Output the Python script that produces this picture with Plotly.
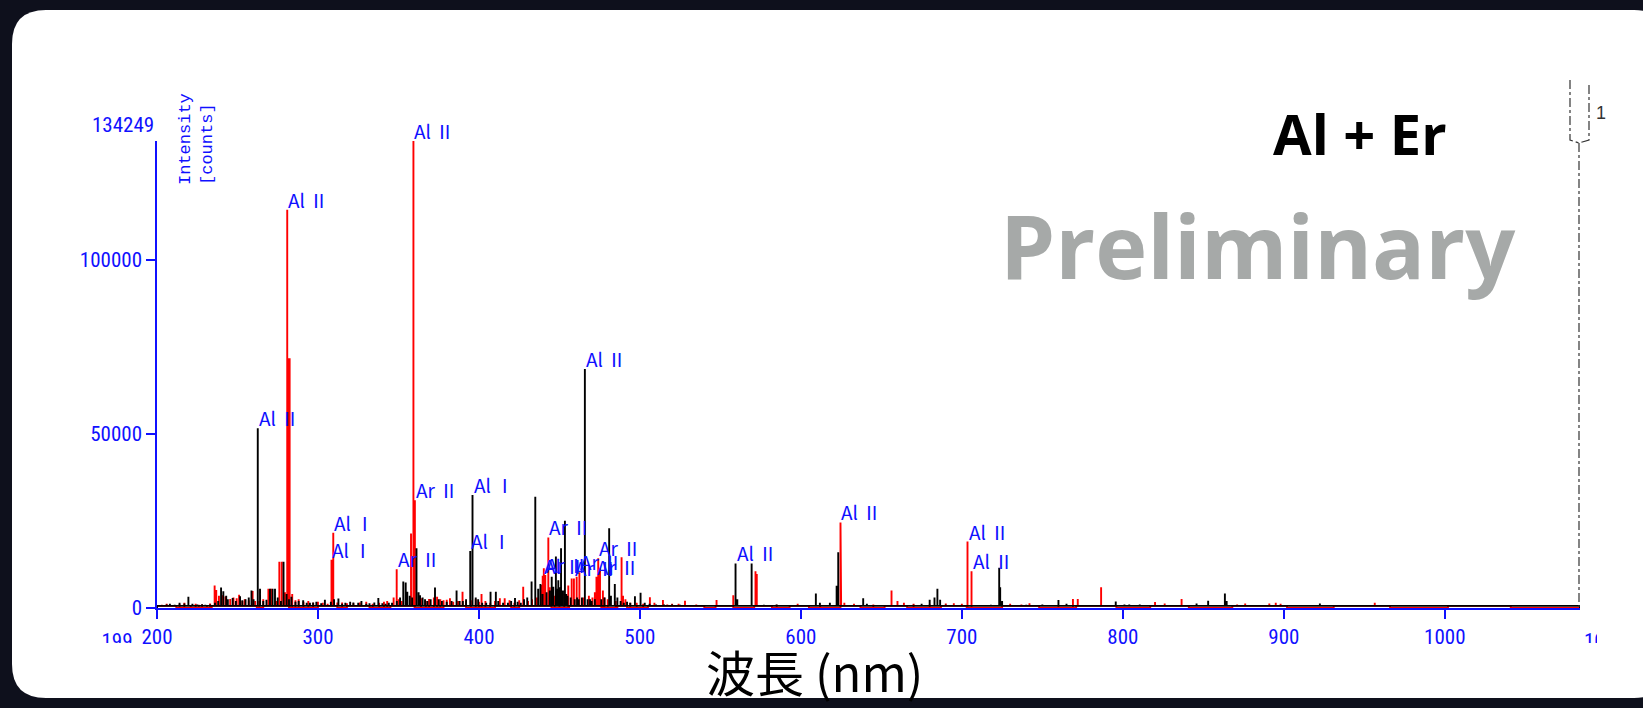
import plotly.graph_objects as go

W, H = 1643, 708
X_MIN, X_MAX = 200, 1084
Y_MAX = 134249

# ---- spectrum peaks (wavelength nm, intensity counts) ----
red_wl = [203, 206, 210, 214, 217, 221, 224, 226, 228, 231, 233,
          235.8, 236.8, 238.5, 240.5, 242.5, 245.5, 247.5, 249.5, 251.0, 253, 254.5, 257.0, 259.4, 261, 263.5,
          266, 269.2, 271.0, 274, 276.0, 277.5, 279.5, 280.9, 281.7, 282.4, 284, 286, 288, 291, 294, 297,
          300, 303, 306, 308.4, 308.8, 309.5, 312, 315, 318, 322, 326, 330, 334, 338, 341, 343, 347,
          348.9, 350.2, 352, 355, 357.8, 359.3, 360.2, 364, 367, 369, 372, 374, 376, 378, 380, 382, 384,
          387, 389.8, 392, 395, 398, 400, 401.6, 404, 407, 410, 413, 416, 419, 422, 425, 427.5, 430.5,
          433, 436, 438.9, 439.6, 440.3, 441.2, 443.1, 444, 447, 450, 453, 455.5, 457.6, 459, 460.7,
          462.4, 465, 468.3, 470.5, 472, 473.0, 474.1, 475.2, 477, 478, 480, 485, 488.6, 489.5, 491, 494,
          498, 502, 506.2, 509, 514.3, 517, 520, 524, 528, 535, 547.6, 558, 571.8, 572.6, 585,
          598, 612, 624.6, 627, 633, 645, 656.3, 660, 664, 670, 680, 690, 695, 700, 703.5, 706.0,
          730, 737, 742, 760, 769, 772, 786.5, 790, 820, 826, 836.5, 871, 876, 883, 891, 895, 898,
          939, 944, 956.5]
red_counts = [900, 1200, 800, 1100, 1500, 700, 1200, 900, 1000, 800, 1300,
              6500, 5200, 3500, 3700, 3300, 2600, 3000, 2800, 3800, 2000, 2500, 2200, 4900, 2000, 2000,
              2500, 5500, 5500, 2000, 13300, 13300, 4500, 114500, 71800, 71800, 4000, 2200, 2500, 1800, 2000, 1500,
              1800, 1500, 1200, 13900, 13900, 21650, 1600, 1600, 1400, 1400, 1600, 1800, 1200, 1500, 1800, 2000, 3000,
              11150, 2500, 2000, 2500, 21400, 134249, 31000, 2800, 2000, 2600, 3000, 3200, 2500, 2200, 2400, 2800, 1800,
              2000, 4700, 2000, 2200, 2500, 1800, 4000, 2000, 1500, 2000, 2800, 2800, 2200, 1500, 2200, 6100, 2000,
              2500, 3000, 6600, 9300, 11400, 9500, 20300, 6000, 3500, 3000, 4000, 6500, 8500, 8500, 9000,
              10300, 3000, 3500, 3000, 4500, 9000, 14300, 11600, 5000, 3000, 2500, 2000, 14600, 3500, 2500, 1500,
              1500, 1200, 3100, 1500, 2300, 1000, 1200, 1200, 2100, 1000, 2300, 3700, 10600, 9800, 900,
              1200, 900, 24600, 1500, 1200, 1000, 5000, 2000, 1500, 1200, 1000, 1300, 1400, 1200, 19100, 10600,
              1200, 1000, 1400, 800, 2600, 2600, 6000, 800, 1700, 1300, 2600, 1000, 1300, 800, 1300, 1500, 1200,
              600, 700, 1500]

black_wl = [203, 206, 208, 211, 214, 217, 219.5, 222, 225, 228, 230, 233, 236, 238, 239.8, 241.2, 243, 244,
            247, 249, 251.6, 253, 255, 257, 258.7, 260, 262.6, 264, 266, 268, 270.2, 271.8, 273.3, 275, 277,
            278.6, 280.5, 282, 283.5, 286, 288, 290.8, 293, 295, 297, 299, 302, 304.3, 308, 310, 312.7, 315,
            317, 320, 322, 325, 327, 330, 332, 335, 337.5, 340, 342, 344, 346, 349, 351, 353.0, 354.5,
            355.5, 357, 358.5, 361.2, 362.5, 363.4, 365, 366.5, 368, 370, 372.7, 375, 377, 380, 383, 386.1,
            388, 390, 392, 394.6, 396.0, 398, 399.5, 402, 404.5, 407.2, 410.5, 412, 415, 418, 420, 422.4,
            424, 426, 428, 430, 432.7, 435.0, 436.8, 438.2, 439.5, 442, 444, 445.2, 446.2, 447.8, 448.5,
            449.3, 450.2, 451.0, 452.2, 453.4, 454.2, 455, 457, 459.5, 461, 462, 464, 465.8, 467.5, 469,
            470, 472, 476, 478, 480.9, 482, 484.4, 486, 488, 490, 492, 494, 496.9, 500.4, 503, 506, 510,
            515, 520, 525, 530, 559.4, 560.5, 569.4, 577, 584.9, 590, 609.3,
            611.8, 618, 622.2, 623.2, 638.7, 641, 650, 670, 675, 680, 683, 684.8, 686.5, 690, 712, 718,
            723.2, 723.8, 725, 740, 750, 760, 765, 795.6, 801, 804, 810.5, 845.8, 853, 863.4, 864.5,
            905, 912, 922.4, 928]
black_counts = [800, 1000, 1200, 900, 1500, 1300, 3250, 1200, 1000, 1100, 900, 1000, 1500, 2000, 5900, 4800, 3500, 2500,
                2900, 2000, 3400, 2200, 2500, 3000, 5000, 2500, 51700, 5500, 2000, 2400, 5500, 5500, 5500, 3000, 2000,
                13300, 4000, 2500, 3200, 1800, 2000, 2200, 1500, 1500, 1600, 1800, 1400, 2400, 1800, 2500, 2700, 1200,
                1500, 1800, 1600, 1500, 2000, 1200, 1400, 1600, 2900, 1400, 1200, 1500, 1500, 2000, 3000, 7600, 7300,
                4700, 3500, 3000, 17200, 4500, 3700, 3000, 2500, 2000, 2500, 5900, 2500, 2000, 1800, 2000, 5000,
                2000, 2000, 2500, 16400, 32500, 3000, 2500, 1500, 1500, 4700, 4700, 2000, 1500, 1500, 2000, 2900,
                1800, 1500, 2500, 3000, 7600, 32000, 5500, 6900, 4000, 4500, 5000, 9000, 6100, 14800, 5500,
                8000, 6000, 17200, 5000, 25100, 4000, 3500, 3000, 2500, 3000, 2500, 3000, 68700, 2500, 2500,
                2000, 2500, 2500, 3000, 22900, 3500, 6900, 3000, 2000, 1500, 1800, 1500, 3400, 4400, 1500, 1200, 1000,
                1000, 1000, 900, 800, 12800, 2500, 12800, 900, 1000, 700, 4200,
                1500, 1500, 6400, 16000, 2800, 1200, 800, 900, 1200, 2400, 3000, 5500, 2400, 900, 800, 900,
                11600, 6000, 2000, 900, 1000, 2300, 1200, 1900, 1000, 1000, 1000, 1300, 2100, 4200, 2000,
                700, 600, 1300, 700]

# wavelength windows (nm) where the red trace's floor lies on top; black elsewhere
red_floor_start = [200, 234, 266, 300, 318, 345, 378, 410, 425, 456, 486, 505, 547, 571, 593,
                   625, 652, 687, 725, 771, 817, 868, 931, 1002]
red_floor_end = [212, 262, 282, 312, 332, 360, 392, 420, 445, 476, 492, 540, 558, 582, 605,
                 637, 666, 703, 748, 796, 841, 902, 966, 1041]
FLOOR = 600

# line identifications
label_wl = [262.6, 280.9, 308.4, 309.5, 348.9, 359.3, 360.2, 394.6, 396.0, 439.6, 441.2, 443.1,
            459, 462.4, 465.8, 473.0, 474.1, 559.4, 624.6, 703.5, 706.0]
label_counts = [51700, 114500, 13900, 21650, 11150, 134249, 31000, 16400, 32500, 9300, 9500, 20300,
                8500, 10300, 68700, 9000, 14300, 12800, 24600, 19100, 10600]
label_text = ["Al Ⅱ", "Al Ⅱ", "Al Ⅰ", "Al Ⅰ", "Ar Ⅱ", "Al Ⅱ", "Ar Ⅱ", "Al Ⅰ", "Al Ⅰ", "Al Ⅱ", "Ar Ⅱ", "Ar Ⅱ",
              "Ar Ⅱ", "Ar Ⅱ", "Al Ⅱ", "Ar Ⅱ", "Ar Ⅱ", "Al Ⅱ", "Al Ⅱ", "Al Ⅱ", "Al Ⅱ"]

x_ticks = [200, 300, 400, 500, 600, 700, 800, 900, 1000]
y_ticks = [0, 50000, 100000]

BLUE = "#1010ff"
TICK_FONT = "Liberation Sans Narrow, Roboto Condensed, DejaVu Sans Condensed, Arial Narrow, sans-serif"


def fx(px):
    return px / W


def fy(py):
    return 1 - py / H


def in_windows(x, starts, ends):
    return any(s <= x < e for s, e in zip(starts, ends))


def stick_path(wl, counts, top_starts, top_ends):
    """Stick spectrum with a floor that sits just above the axis inside its own windows."""
    def floor(x):
        return FLOOR if in_windows(x, top_starts, top_ends) else 0

    events = []
    for b in sorted(set(top_starts + top_ends)):
        events.append((b, 0, None))
    for w, c in zip(wl, counts):
        events.append((w, 1, c))
    events.sort(key=lambda e: (e[0], e[1]))

    xs, ys = [X_MIN], [floor(X_MIN)]
    for x, kind, c in events:
        if kind == 0:
            xs += [x, x]
            ys += [floor(x - 1e-6), floor(x)]
        else:
            f = floor(x)
            xs += [x, x, x]
            ys += [f, c, f]
    xs.append(X_MAX)
    ys.append(floor(X_MAX - 1e-6))
    return xs, ys


black_starts = [X_MIN] + red_floor_end
black_ends = red_floor_start[1:] + [X_MAX]
black_starts, black_ends = zip(*[(s, e) for s, e in zip(black_starts, black_ends) if e > s])
black_starts, black_ends = list(black_starts), list(black_ends)

rx, ry = stick_path(red_wl, red_counts, red_floor_start, red_floor_end)
bx, by = stick_path(black_wl, black_counts, black_starts, black_ends)

fig = go.Figure()
fig.add_trace(go.Scatter(x=rx, y=ry, mode="lines", line=dict(color="#ff0000", width=1.9),
                         hoverinfo="skip", showlegend=False))
fig.add_trace(go.Scatter(x=bx, y=by, mode="lines", line=dict(color="#000000", width=1.9),
                         hoverinfo="skip", showlegend=False))

# partially clipped range-end readouts of the spectrum window
fig.add_trace(go.Scatter(x=[22], y=[0.5], mode="text", text=["199"], textposition="middle center",
                         textfont=dict(family=TICK_FONT, size=21, color=BLUE), cliponaxis=True,
                         xaxis="x3", yaxis="y3", hoverinfo="skip", showlegend=False))
fig.add_trace(go.Scatter(x=[12], y=[0.5], mode="text", text=["1084"], textposition="middle right",
                         textfont=dict(family=TICK_FONT, size=21, color=BLUE), cliponaxis=True,
                         xaxis="x4", yaxis="y4", hoverinfo="skip", showlegend=False))

annotations = []
for w, c, t in zip(label_wl, label_counts, label_text):
    annotations.append(dict(x=w, y=c, xref="x", yref="y", text=t, showarrow=False,
                            xanchor="left", yanchor="bottom", xshift=-1, yshift=-5,
                            font=dict(family="Noto Sans CJK JP", size=19, color=BLUE)))

annotations += [
    dict(x=fx(156), y=fy(139), xref="paper", yref="paper", text=str(Y_MAX), showarrow=False,
         xanchor="right", yanchor="bottom", font=dict(family=TICK_FONT, size=21, color=BLUE)),
    dict(x=fx(196), y=fy(139), xref="paper", yref="paper", text="Intensity<br>[counts]",
         showarrow=False, textangle=-90, align="left", xanchor="center", yanchor="middle",
         font=dict(family="Liberation Mono, DejaVu Sans Mono, monospace", size=17, color=BLUE)),
    dict(x=fx(1360), y=fy(133), xref="paper", yref="paper", text="<b>Al + Er</b>", showarrow=False,
         xanchor="center", yanchor="middle", font=dict(family="Open Sans", size=56, color="#000000")),
    dict(x=fx(1258), y=fy(245), xref="paper", yref="paper", text="<b>Preliminary</b>", showarrow=False,
         xanchor="center", yanchor="middle", font=dict(family="Open Sans", size=88, color="#a6a9a8")),
    dict(x=fx(814), y=fy(707), xref="paper", yref="paper", text="波長 (nm)", showarrow=False,
         xanchor="center", yanchor="bottom", borderpad=0,
         font=dict(family="Noto Sans CJK JP", size=49, color="#000000")),
    dict(x=fx(1594), y=fy(113), xref="paper", yref="paper", text="1", showarrow=False,
         xanchor="left", yanchor="middle", font=dict(family="Liberation Sans", size=18, color="#333333")),
]

# white rounded panel
L, T, R, B, RAD = 12, 10, 1668, 698, 34
rx_, ry_ = RAD / W, RAD / H
panel = (f"M {fx(L + RAD)},{fy(T)} L {fx(R - RAD)},{fy(T)} Q {fx(R)},{fy(T)} {fx(R)},{fy(T) - ry_} "
         f"L {fx(R)},{fy(B) + ry_} Q {fx(R)},{fy(B)} {fx(R - RAD)},{fy(B)} "
         f"L {fx(L + RAD)},{fy(B)} Q {fx(L)},{fy(B)} {fx(L)},{fy(B) + ry_} "
         f"L {fx(L)},{fy(T) - ry_} Q {fx(L)},{fy(T)} {fx(L + RAD)},{fy(T)} Z")

marker_x = 1579
shapes = [
    dict(type="path", path=panel, xref="paper", yref="paper", layer="below",
         fillcolor="#ffffff", line=dict(width=0)),
    dict(type="line", xref="paper", yref="paper", x0=fx(marker_x), x1=fx(marker_x),
         y0=fy(143), y1=fy(607), line=dict(color="#333333", width=1.2, dash="dashdot")),
    dict(type="path", xref="paper", yref="paper",
         path=(f"M {fx(1570)},{fy(80)} L {fx(1570)},{fy(140)} L {fx(marker_x)},{fy(143)} "
               f"L {fx(1589)},{fy(140)} L {fx(1589)},{fy(82)}"),
         line=dict(color="#333333", width=1.2, dash="dashdot")),
]

fig.update_layout(
    width=W, height=H, autosize=False,
    margin=dict(l=0, r=0, t=0, b=0, pad=0, autoexpand=False),
    paper_bgcolor="#0e101c", plot_bgcolor="rgba(0,0,0,0)",
    showlegend=False,
    xaxis=dict(domain=[fx(157), fx(1580)], range=[X_MIN, X_MAX], showgrid=False, zeroline=False,
               showline=True, linecolor=BLUE, linewidth=2, ticks="outside", ticklen=9,
               tickwidth=1.5, tickcolor=BLUE, tickvals=x_ticks, ticktext=[str(v) for v in x_ticks],
               tickfont=dict(family=TICK_FONT, size=21, color=BLUE), anchor="y", fixedrange=True,
               automargin=False),
    yaxis=dict(domain=[fy(608), fy(141)], range=[0, Y_MAX], showgrid=False, zeroline=False,
               showline=True, linecolor=BLUE, linewidth=1.5, ticks="outside", ticklen=9,
               tickwidth=1.5, tickcolor=BLUE, tickvals=y_ticks, ticktext=[str(v) for v in y_ticks],
               tickfont=dict(family=TICK_FONT, size=21, color=BLUE), anchor="x", fixedrange=True,
               automargin=False),
    xaxis3=dict(domain=[fx(95), fx(140)], range=[0, 45], visible=False, anchor="y3", automargin=False),
    yaxis3=dict(domain=[fy(643), fy(625)], range=[0, 18], visible=False, anchor="x3", automargin=False),
    xaxis4=dict(domain=[fx(1572), fx(1597)], range=[0, 25], visible=False, anchor="y4", automargin=False),
    yaxis4=dict(domain=[fy(643), fy(625)], range=[0, 18], visible=False, anchor="x4", automargin=False),
    annotations=annotations,
    shapes=shapes,
)

fig.write_html("out.html")
